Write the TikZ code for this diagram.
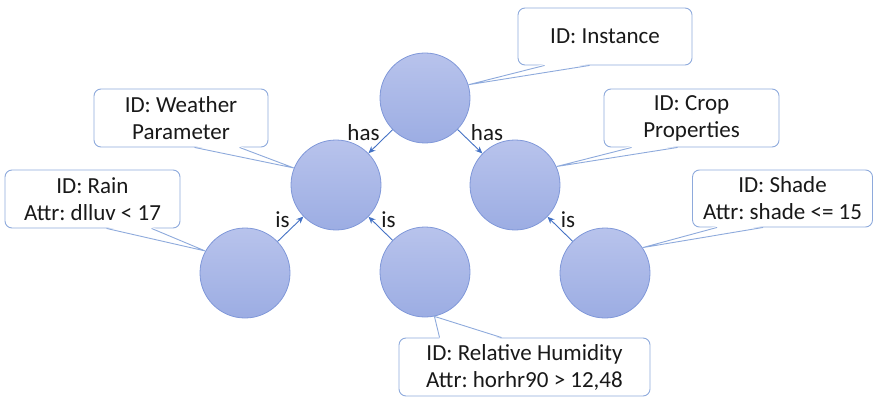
\documentclass[tikz,border=0pt]{standalone}
\usepackage{fontspec}
\setmainfont{Carlito}
\usepackage{xcolor}
\usetikzlibrary{calc,arrows.meta}
\frenchspacing

\definecolor{ballTop}{HTML}{B8C3EC}
\definecolor{ballBot}{HTML}{9CADE3}
\definecolor{ballLine}{HTML}{8098D9}
\definecolor{noteLine}{HTML}{8EAADC}
\definecolor{linkBlue}{HTML}{4472C4}

\tikzset{
  ball/.style={circle, minimum size=90pt, inner sep=0pt, draw=ballLine, line width=0.8pt,
    top color=ballTop, bottom color=ballBot},
  note/.style={draw=noteLine, fill=white, rounded corners=7pt, line width=0.9pt,
    align=center, text=black!90, font=\fontsize{23}{27}\selectfont},
  tail/.style={draw=noteLine, line width=0.9pt},
  link/.style={draw=linkBlue, line width=0.9pt, -{Stealth[length=7pt,width=6pt]}},
  lbl/.style={font=\fontsize{23}{26}\selectfont, text=black!90, inner sep=0.5pt}
}

\begin{document}
\begin{tikzpicture}[x=1pt, y=-1pt]
\useasboundingbox (0,0) rectangle (874,398);

% the six instances
\node [ball] (root) at (425,98) {};
\node [ball] (weather) at (336,185) {};
\node [ball] (crop) at (515,185) {};
\node [ball] (rain) at (245,273) {};
\node [ball] (humid) at (425,272) {};
\node [ball] (shade) at (605,273) {};

% relations
\draw [link] (root) -- (weather) node [midway, above left, lbl] {has};
\draw [link] (root) -- (crop) node [midway, above right, lbl] {has};
\draw [link] (rain) -- (weather) node [midway, above left, lbl] {is};
\draw [link] (humid) -- (weather) node [midway, above right, lbl] {is};
\draw [link] (shade) -- (crop) node [midway, above right, lbl] {is};

% callouts
\node [note, minimum width=174pt, minimum height=57pt] (nInst) at (605,36.5) {ID: Instance};
\node [note, minimum width=174pt, minimum height=58pt] (nWeather) at (181,118) {ID: Weather\\Parameter};
\node [note, minimum width=175pt, minimum height=58pt] (nCrop) at (691.5,118) {ID: Crop\\Properties};
\node [note, minimum width=180pt, minimum height=57pt] (nShade) at (782.5,198.5) {ID: Shade\\Attr: shade <= 15};
\node [note, minimum width=175pt, minimum height=58pt] (nRain) at (92.5,199) {ID: Rain\\Attr: dlluv < 17};
\node [note, minimum width=251pt, minimum height=58pt] (nHumid) at (524.5,367) {ID: Relative Humidity\\Attr: horhr90 > 12,48};

% callout tails
\fill [white] ($(nInst.south west)+(27,-1.5)$) -- (root.17) -- ($(nInst.south west)+(72,-1.5)$) -- cycle;
\draw [tail] ($(nInst.south west)+(27,0)$) -- (root.17) -- ($(nInst.south west)+(72,0)$);

\fill [white] ($(nWeather.south west)+(101,-1.5)$) -- (weather.158) -- ($(nWeather.south west)+(146,-1.5)$) -- cycle;
\draw [tail] ($(nWeather.south west)+(101,0)$) -- (weather.158) -- ($(nWeather.south west)+(146,0)$);

\fill [white] ($(nCrop.south west)+(28,-1.5)$) -- (crop.24) -- ($(nCrop.south west)+(74,-1.5)$) -- cycle;
\draw [tail] ($(nCrop.south west)+(28,0)$) -- (crop.24) -- ($(nCrop.south west)+(74,0)$);

\fill [white] ($(nShade.south west)+(25,-1.5)$) -- (shade.34) -- ($(nShade.south west)+(71,-1.5)$) -- cycle;
\draw [tail] ($(nShade.south west)+(25,0)$) -- (shade.34) -- ($(nShade.south west)+(71,0)$);

\fill [white] ($(nRain.south west)+(102,-1.5)$) -- (rain.151) -- ($(nRain.south west)+(147,-1.5)$) -- cycle;
\draw [tail] ($(nRain.south west)+(102,0)$) -- (rain.151) -- ($(nRain.south west)+(147,0)$);

\fill [white] ($(nHumid.north west)+(41,1.5)$) -- (humid.282) -- ($(nHumid.north west)+(103,1.5)$) -- cycle;
\draw [tail] ($(nHumid.north west)+(41,0)$) -- (humid.282) -- ($(nHumid.north west)+(103,0)$);
\end{tikzpicture}
\end{document}
